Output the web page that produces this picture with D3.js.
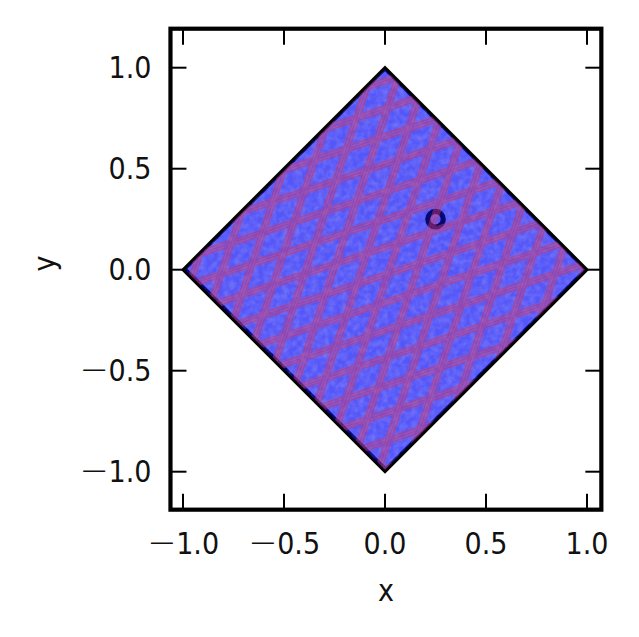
<!DOCTYPE html>
<html>
<head>
<meta charset="utf-8">
<script src="https://cdnjs.cloudflare.com/ajax/libs/d3/7.8.5/d3.min.js"></script>
<style>
  html, body { margin: 0; padding: 0; background: #fff; }
  svg { display: block; }
  text { font-family: "DejaVu Sans Condensed", "DejaVu Sans", sans-serif; fill: #111; }
  tspan.minus { font-family: "DejaVu Sans", sans-serif; font-weight: 200; font-size: 35px; }
</style>
</head>
<body>
<svg id="chart"></svg>
<script>
const tickValues = [-1, -0.5, 0, 0.5, 1];
const xLim = [-1.062, 1.071];
const yLim = [-1.188, 1.193];

const diamondX = [-1, 0, 1, 0];
const diamondY = [0, 1, 0, -1];
// blue cloud stops a little short of the outline, more so on the lower edges
const cloudX = [-0.978, 0, 0.982, 0.004];
const cloudY = [0.005, 0.983, 0.001, -0.976];

const bandSlope = 1 / 3;
const shallowBands = [0.934, 0.797, 0.66, 0.522, 0.385, 0.248, 0.111, -0.026, -0.163, -0.301, -0.438, -0.575, -0.712, -0.85, -0.987];
const steepBands = [0.987, 0.849, 0.711, 0.574, 0.436, 0.298, 0.16, 0.022, -0.116, -0.254, -0.391, -0.529, -0.667, -0.805, -0.943];
const strandOffsets = [-0.014, 0, 0.014];

const markerX = [0.25];
const markerY = [0.25];

const width = 639;
const height = 637;

const x = d3.scaleLinear().domain([-1, 1]).range([183, 587]);
const y = d3.scaleLinear().domain([-1, 1]).range([471.7, 67.7]);

const svg = d3.select("#chart").attr("width", width).attr("height", height);

const defs = svg.append("defs");
const toPoints = (xs, ys) => xs.map((d, i) => [x(d), y(ys[i])].join(",")).join(" ");

defs.append("clipPath").attr("id", "inside")
  .append("polygon").attr("points", toPoints(diamondX, diamondY));

// mottled look of the dense point cloud
const noise = defs.append("filter").attr("id", "mottle")
  .attr("x", 0).attr("y", 0).attr("width", 1).attr("height", 1);
noise.append("feTurbulence")
  .attr("type", "fractalNoise").attr("baseFrequency", 0.17)
  .attr("numOctaves", 2).attr("seed", 4);
noise.append("feColorMatrix").attr("type", "matrix")
  .attr("values", "0 0 0 0 1  0 0 0 0 1  0 0 0 0 1  1.3 0 0 0 -0.4");

const plot = svg.append("g");

plot.append("polygon").attr("points", toPoints(diamondX, diamondY)).attr("fill", "#00007e");
plot.append("polygon").attr("points", toPoints(cloudX, cloudY)).attr("fill", "#5456f8");

plot.append("g").attr("clip-path", "url(#inside)")
  .append("rect")
  .attr("x", x(-1)).attr("y", y(1))
  .attr("width", x(1) - x(-1)).attr("height", y(-1) - y(1))
  .attr("fill", "#fff").attr("filter", "url(#mottle)").attr("opacity", 0.24);

plot.selectAll("circle.marker").data(markerX).join("circle")
  .attr("class", "marker")
  .attr("cx", d => x(d))
  .attr("cy", (d, i) => y(markerY[i]))
  .attr("r", 7.75)
  .attr("fill", "none").attr("stroke", "#08086e").attr("stroke-width", 5.2);

const bandLine = d3.line().x(d => x(d[0])).y(d => y(d[1]));
const shallowPath = c => bandLine([[-1.1, c - 1.1 * bandSlope], [1.1, c + 1.1 * bandSlope]]);
const steepPath = d => bandLine([[d - 1.1 * bandSlope, -1.1], [d + 1.1 * bandSlope, 1.1]]);

function drawBands(parent, values, pathFor, opacity) {
  const g = parent.append("g").attr("opacity", opacity);
  g.selectAll("path.band").data(values).join("path")
    .attr("class", "band")
    .attr("d", pathFor)
    .attr("fill", "none").attr("stroke", "#dc4870").attr("stroke-width", 7.8);
  values.forEach(v => {
    g.selectAll(null).data(strandOffsets).join("path")
      .attr("d", o => pathFor(v + o))
      .attr("fill", "none").attr("stroke", "#cc3060").attr("stroke-width", 1.1);
  });
  return g;
}

const overlay = plot.append("g").attr("clip-path", "url(#inside)");
const both = overlay.append("g").attr("opacity", 0.42);
drawBands(both, shallowBands, shallowPath, 1);
drawBands(both, steepBands, steepPath, 1);
drawBands(overlay, shallowBands, shallowPath, 0.04);
drawBands(overlay, steepBands, steepPath, 0.04);

plot.append("polygon").attr("points", toPoints(diamondX, diamondY))
  .attr("fill", "none").attr("stroke", "#000").attr("stroke-width", 3).attr("stroke-linejoin", "miter");

// ticks on all four sides, pointing in
const tickLen = 16;
const axes = svg.append("g").attr("stroke", "#000").attr("stroke-width", 2);
tickValues.forEach(t => {
  axes.append("line").attr("x1", x(t)).attr("x2", x(t)).attr("y1", y(yLim[0])).attr("y2", y(yLim[0]) - tickLen);
  axes.append("line").attr("x1", x(t)).attr("x2", x(t)).attr("y1", y(yLim[1])).attr("y2", y(yLim[1]) + tickLen);
  axes.append("line").attr("y1", y(t)).attr("y2", y(t)).attr("x1", x(xLim[0])).attr("x2", x(xLim[0]) + tickLen);
  axes.append("line").attr("y1", y(t)).attr("y2", y(t)).attr("x1", x(xLim[1])).attr("x2", x(xLim[1]) - tickLen);
});

svg.append("rect")
  .attr("x", x(xLim[0])).attr("y", y(yLim[1]))
  .attr("width", x(xLim[1]) - x(xLim[0])).attr("height", y(yLim[0]) - y(yLim[1]))
  .attr("fill", "none").attr("stroke", "#000").attr("stroke-width", 4.2);

function tickText(sel) {
  sel.each(function (d) {
    const t = d3.select(this);
    if (d < 0) t.append("tspan").attr("class", "minus").text("\u2212");
    t.append("tspan").text(d3.format(".1f")(Math.abs(d)));
  });
}

svg.selectAll("text.xt").data(tickValues).join("text")
  .attr("class", "xt")
  .attr("x", d => x(d)).attr("y", 554)
  .attr("text-anchor", "middle").attr("font-size", 30)
  .call(tickText);

svg.selectAll("text.yt").data(tickValues).join("text")
  .attr("class", "yt")
  .attr("x", 151.5).attr("y", d => y(d) + 10)
  .attr("text-anchor", "end").attr("font-size", 30)
  .call(tickText);

svg.append("text").attr("x", 386).attr("y", 601)
  .attr("text-anchor", "middle").attr("font-size", 30).text("x");

svg.append("text")
  .attr("transform", "translate(55,263.5) rotate(-90)")
  .attr("text-anchor", "middle").attr("font-size", 30).text("y");
</script>
</body>
</html>
